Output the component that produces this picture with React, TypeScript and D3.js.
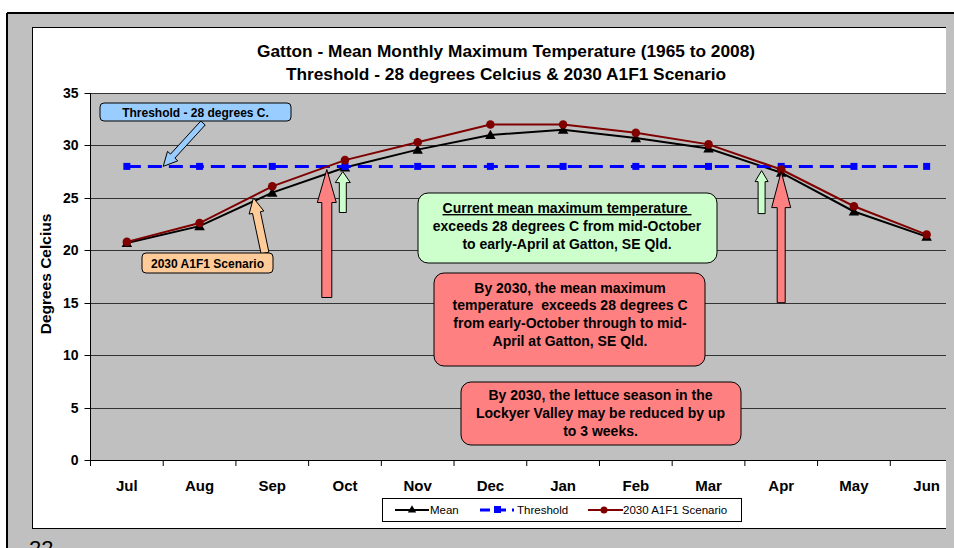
import React from 'react';
import * as d3 from 'd3';

// chart values
const months = ['Jul', 'Aug', 'Sep', 'Oct', 'Nov', 'Dec', 'Jan', 'Feb', 'Mar', 'Apr', 'May', 'Jun'];
const meanTemp = [20.7, 22.3, 25.5, 27.9, 29.6, 31.0, 31.5, 30.7, 29.7, 27.4, 23.7, 21.3];
const thresholdTemp = [28, 28, 28, 28, 28, 28, 28, 28, 28, 28, 28, 28];
const scenarioTemp = [20.8, 22.6, 26.1, 28.6, 30.3, 32.0, 32.0, 31.2, 30.1, 27.7, 24.2, 21.5];
const yTicks = [0, 5, 10, 15, 20, 25, 30, 35];

const titleLines = [
  'Gatton - Mean Monthly Maximum Temperature (1965 to 2008)',
  'Threshold - 28 degrees Celcius & 2030 A1F1 Scenario',
];
const greenLines = [
  'Current mean maximum temperature ',
  'exceeds 28 degrees C from mid-October',
  'to early-April at Gatton, SE Qld.',
];
const redLines1 = [
  'By 2030, the mean maximum',
  'temperature  exceeds 28 degrees C',
  'from early-October through to mid-',
  'April at Gatton, SE Qld.',
];
const redLines2 = [
  'By 2030, the lettuce season in the',
  'Lockyer Valley may be reduced by up',
  'to 3 weeks.',
];

const FONT = '"Liberation Sans", Arial, sans-serif';

// block arrow polygon from tail to tip
function blockArrow(x1: number, y1: number, x2: number, y2: number, sw: number, hw: number, hl: number) {
  const dx = x2 - x1, dy = y2 - y1;
  const len = Math.sqrt(dx * dx + dy * dy);
  const ux = dx / len, uy = dy / len;
  const px = -uy, py = ux;
  const bx = x2 - ux * hl, by = y2 - uy * hl;
  const pts = [
    [x1 + px * sw / 2, y1 + py * sw / 2],
    [bx + px * sw / 2, by + py * sw / 2],
    [bx + px * hw / 2, by + py * hw / 2],
    [x2, y2],
    [bx - px * hw / 2, by - py * hw / 2],
    [bx - px * sw / 2, by - py * sw / 2],
    [x1 - px * sw / 2, y1 - py * sw / 2],
  ];
  return 'M' + pts.map(p => p[0].toFixed(1) + ',' + p[1].toFixed(1)).join('L') + 'Z';
}

export default function App() {
  const width = 954, height = 548;
  const left = 90.5, right = 963, top = 93, bottom = 460;

  const x = d3.scaleBand<string>().domain(months).range([left, right]);
  const bw = x.bandwidth();
  const cx = (i: number) => left + bw / 2 + i * bw;
  const y = d3.scaleLinear().domain([0, 35]).range([bottom, top]);

  const line = d3.line<number>()
    .x((d, i) => cx(i))
    .y(d => y(d));

  const tri = d3.symbol().type(d3.symbolTriangle).size(48)();

  const textStyle = { fontFamily: FONT, fontWeight: 'bold' as const };
  const boxFont = 14;

  return (
    <svg width={width} height={height} style={{ position: 'absolute', left: 0, top: 0 }}>
      <defs>
        <clipPath id="clipChart">
          <rect x={0} y={0} width={946} height={height} />
        </clipPath>
      </defs>
      <rect x={0} y={0} width={width} height={height} fill="#fff" />
      <rect x={7} y={13} width={width} height={height} fill="#c0c0c0" />
      <line x1={7} y1={13} x2={width} y2={13} stroke="#000" strokeWidth={2} />
      <line x1={7} y1={13} x2={7} y2={height} stroke="#000" strokeWidth={2} />
      <text x={29} y={556} fontFamily={FONT} fontSize={22}>22</text>

      <g clipPath="url(#clipChart)">
        {/* chart area */}
        <rect x={32.5} y={27.5} width={960} height={501} fill="#fff" stroke="#000" strokeWidth={1} />

        {titleLines.map((t, i) => (
          <text key={t} x={506} y={57 + i * 23} textAnchor="middle" fontSize={17.3} {...textStyle}>{t}</text>
        ))}

        {/* plot area */}
        <rect x={left} y={top} width={right - left} height={bottom - top} fill="#c0c0c0" />
        {yTicks.map(t => (
          <g key={t}>
            {t > 0 && <line x1={left} x2={right} y1={Math.round(y(t)) + 0.5} y2={Math.round(y(t)) + 0.5} stroke="#333" strokeWidth={1} />}
            <line x1={left - 6} x2={left} y1={Math.round(y(t)) + 0.5} y2={Math.round(y(t)) + 0.5} stroke="#000" />
            <text x={78.5} y={y(t) + 5} textAnchor="end" fontSize={14} {...textStyle}>{t}</text>
          </g>
        ))}
        <line x1={left} x2={left} y1={top} y2={bottom} stroke="#000" />
        <line x1={left} x2={right} y1={bottom + 0.5} y2={bottom + 0.5} stroke="#000" />
        {months.map((m, i) => (
          <g key={m}>
            <line x1={x(m)!} x2={x(m)!} y1={bottom} y2={bottom + 6} stroke="#000" />
            <text x={cx(i)} y={491} textAnchor="middle" fontSize={15} {...textStyle}>{m}</text>
          </g>
        ))}
        <text transform={`translate(51,274) rotate(-90)`} textAnchor="middle" fontSize={15.5} {...textStyle}>Degrees Celcius</text>

        {/* series */}
        <path d={line(meanTemp)!} fill="none" stroke="#000" strokeWidth={2} />
        {meanTemp.map((d, i) => (
          <path key={i} d={tri!} transform={`translate(${cx(i)},${y(d) + 1})`} fill="#000" />
        ))}
        <path d={line(thresholdTemp)!} fill="none" stroke="#0000ff" strokeWidth={3} strokeDasharray="14 7" />
        {thresholdTemp.map((d, i) => (
          <rect key={i} x={cx(i) - 3.5} y={y(d) - 3.5} width={7} height={7} fill="#0000ff" />
        ))}
        <path d={line(scenarioTemp)!} fill="none" stroke="#800000" strokeWidth={2} />
        {scenarioTemp.map((d, i) => (
          <circle key={i} cx={cx(i)} cy={y(d)} r={4.3} fill="#800000" />
        ))}

        {/* annotations */}
        <path d={blockArrow(203, 123, cx(0.5), y(28), 6, 14, 14)} fill="#99ccff" stroke="#000" strokeWidth={1} />
        <rect x={100} y={103} width={191} height={18} rx={4} fill="#99ccff" stroke="#000" strokeWidth={1} />
        <text x={195.5} y={116.5} textAnchor="middle" fontSize={12} {...textStyle}>Threshold - 28 degrees C.</text>

        <path d={blockArrow(265, 253, cx(1.74), y(25.0), 8, 15, 15)} fill="#ffcc99" stroke="#000" strokeWidth={1} />
        <rect x={142} y={253} width={131} height={20} rx={4} fill="#ffcc99" stroke="#000" strokeWidth={1} />
        <text x={207.5} y={267.5} textAnchor="middle" fontSize={12} {...textStyle}>2030 A1F1 Scenario</text>

        <path d={blockArrow(cx(2.75), y(15.5), cx(2.75), y(27.7), 10, 19, 33)} fill="#ff8080" stroke="#000" strokeWidth={1} />
        <path d={blockArrow(cx(2.97), y(23.6), cx(2.97), y(27.5), 7, 15, 11)} fill="#ccffcc" stroke="#000" strokeWidth={1} />
        <path d={blockArrow(cx(8.73), y(23.5), cx(8.73), y(27.6), 7, 13, 11)} fill="#ccffcc" stroke="#000" strokeWidth={1} />
        <path d={blockArrow(cx(9.0), y(15.0), cx(9.0), y(27.5), 8, 19, 36)} fill="#ff8080" stroke="#000" strokeWidth={1} />

        <rect x={418} y={193} width={299} height={70} rx={10} fill="#ccffcc" stroke="#000" strokeWidth={1} />
        {greenLines.map((t, i) => (
          <text key={i} x={567} y={213 + i * 18} textAnchor="middle" fontSize={boxFont} {...textStyle}
            style={{ whiteSpace: 'pre' }}
            textDecoration={i === 0 ? 'underline' : undefined}>{t}</text>
        ))}

        <rect x={434} y={273} width={271} height={93} rx={10} fill="#ff8080" stroke="#000" strokeWidth={1} />
        {redLines1.map((t, i) => (
          <text key={i} x={570} y={292.5 + i * 17.7} textAnchor="middle" fontSize={boxFont} {...textStyle}
            style={{ whiteSpace: 'pre' }}>{t}</text>
        ))}

        <rect x={461} y={382} width={280} height={63} rx={10} fill="#ff8080" stroke="#000" strokeWidth={1} />
        {redLines2.map((t, i) => (
          <text key={i} x={600.5} y={400 + i * 18} textAnchor="middle" fontSize={boxFont} {...textStyle}>{t}</text>
        ))}

        {/* legend */}
        <rect x={382.5} y={498.5} width={359} height={23} fill="#fff" stroke="#000" strokeWidth={1} />
        <line x1={395} x2={429} y1={510} y2={510} stroke="#000" strokeWidth={2} />
        <path d={d3.symbol().type(d3.symbolTriangle).size(30)()!} transform="translate(412,510)" fill="#000" />
        <text x={430} y={514} fontSize={11.5} fontFamily={FONT}>Mean</text>
        <line x1={480} x2={514} y1={510} y2={510} stroke="#0000ff" strokeWidth={3} strokeDasharray="10 6" />
        <rect x={494} y={506} width={7} height={7} fill="#0000ff" />
        <text x={517} y={514} fontSize={11.5} fontFamily={FONT}>Threshold</text>
        <line x1={588} x2={623} y1={510} y2={510} stroke="#800000" strokeWidth={2} />
        <circle cx={604} cy={510} r={3.5} fill="#800000" />
        <text x={623} y={514} fontSize={11.5} fontFamily={FONT}>2030 A1F1 Scenario</text>
      </g>
    </svg>
  );
}
